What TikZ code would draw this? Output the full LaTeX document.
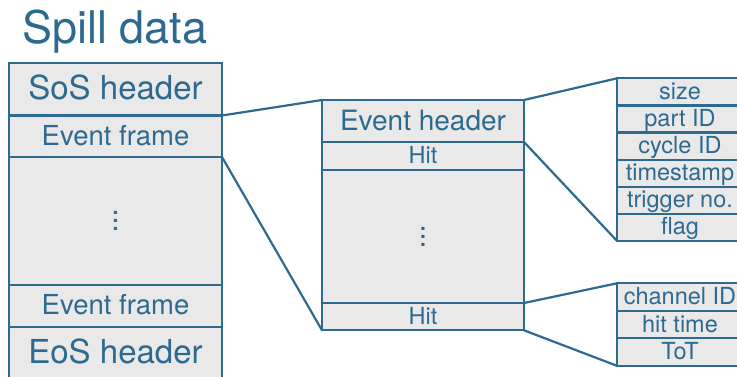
\documentclass[tikz,border=0pt]{standalone}
\usepackage{fontspec}
\setmainfont{TeX Gyre Heros}
\usetikzlibrary{positioning}
\definecolor{accent}{HTML}{2E6A8F}
\definecolor{cellfill}{HTML}{E9E9E9}
\newcommand\gapdots{\vbox{\baselineskip=8pt\lineskiplimit=0pt\hbox{.}\hbox{.}\hbox{.}}}
\newcommand\celltext[1]{\vrule width 0pt height .75em depth .1em\smash{#1}}

\begin{document}
\begin{tikzpicture}[x=1pt,y=-1pt,
  cell/.style={draw=accent,fill=cellfill,line width=2.2pt,text=accent,inner sep=0pt,outer sep=0pt},
  spill/.style={cell,minimum width=213pt},
  event/.style={cell,minimum width=202pt},
  field/.style={cell,minimum width=126pt,font=\fontsize{23.5}{26}\selectfont},
  link/.style={draw=accent,line width=2.2pt}]
\useasboundingbox (0,0) rectangle (737,376);
\clip (0,0) rectangle (737,376);

\node[anchor=base west,inner sep=0pt,text=accent,font=\fontsize{45}{50}\selectfont] (title) at (22,43.5) {Spill data};

\node[spill,anchor=north west,minimum height=52.5pt,font=\fontsize{33}{36}\selectfont] (sos) at (9,63) {\celltext{SoS header}};
\node[spill,below=0pt of sos,minimum height=41.5pt,font=\fontsize{27.5}{30}\selectfont] (ev1) {\celltext{Event frame}};
\node[spill,below=0pt of ev1,minimum height=128.3pt] (lgap) {};
\node[spill,below=0pt of lgap,minimum height=41.4pt,font=\fontsize{27.5}{30}\selectfont] (ev2) {\celltext{Event frame}};
\node[spill,below=0pt of ev2,minimum height=52.5pt,font=\fontsize{33}{36}\selectfont] (eos) {\celltext{EoS header}};
\node[text=accent,inner sep=0pt,font=\fontsize{30}{32}\selectfont] (ldots) at (lgap) {\gapdots};

\node[event,anchor=north west,minimum height=42pt,font=\fontsize{28}{30}\selectfont] (evh) at (322,100) {\celltext{Event header}};
\node[event,below=0pt of evh,minimum height=28pt,font=\fontsize{23.5}{26}\selectfont] (hit1) {\celltext{Hit}};
\node[event,below=0pt of hit1,minimum height=133pt] (mgap) {};
\node[event,below=0pt of mgap,minimum height=27.3pt,font=\fontsize{23.5}{26}\selectfont] (hit2) {\celltext{Hit}};
\node[text=accent,inner sep=0pt,font=\fontsize{30}{32}\selectfont] (mdots) at (mgap) {\gapdots};

\node[field,anchor=north west,minimum height=27.1pt] (size) at (617,78.3) {\celltext{size}};
\node[field,below=0pt of size,minimum height=27.1pt] (partid) {\celltext{part ID}};
\node[field,below=0pt of partid,minimum height=27.1pt] (cycleid) {\celltext{cycle ID}};
\node[field,below=0pt of cycleid,minimum height=27.1pt] (tstamp) {\celltext{timestamp}};
\node[field,below=0pt of tstamp,minimum height=27.1pt] (trigno) {\celltext{trigger no.}};
\node[field,below=0pt of trigno,minimum height=27.1pt] (flag) {\celltext{flag}};

\node[field,anchor=north west,minimum height=27.5pt] (chanid) at (617,283.3) {\celltext{channel ID}};
\node[field,below=0pt of chanid,minimum height=27.5pt] (hittime) {\celltext{hit time}};
\node[field,below=0pt of hittime,minimum height=27.5pt] (tot) {\celltext{ToT}};

\draw[link] (ev1.north east) -- (evh.north west);
\draw[link] (ev1.south east) -- (hit2.south west);
\draw[link] (evh.north east) -- (size.north west);
\draw[link] (evh.south east) -- (flag.south west);
\draw[link] (hit2.north east) -- (chanid.north west);
\draw[link] (hit2.south east) -- (tot.south west);
\end{tikzpicture}
\end{document}
